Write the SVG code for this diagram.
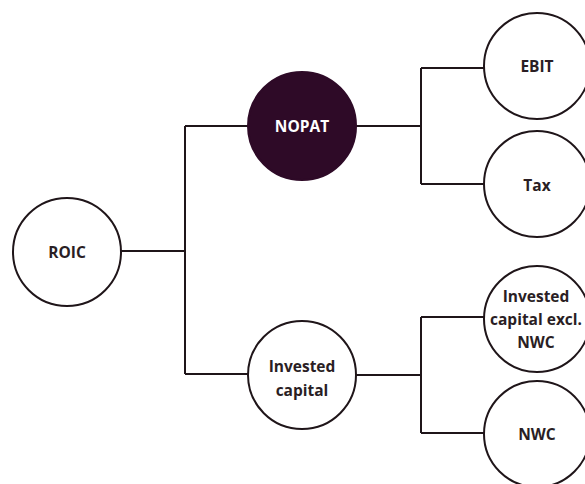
<svg xmlns="http://www.w3.org/2000/svg" width="585" height="484" viewBox="0 0 585 484">
<style>
.node{fill:#ffffff;stroke:#1f1519;stroke-width:2}
.dark{fill:#2e0a27;stroke:#2e0a27;stroke-width:2}
.lbl{font-family:"Open Sans","Liberation Sans",sans-serif;font-weight:700;font-size:15.5px;fill:#2a1e24;text-anchor:middle;dominant-baseline:central}
.lblw{fill:#ffffff}
.conn{fill:none;stroke:#1f1519;stroke-width:2}
</style>
<rect width="585" height="484" fill="#ffffff"/>
<g id="connectors">
<path class="conn" d="M121 251 H185 M185 126 V374 M185 126 H248 M185 374 H248"/>
<path class="conn" d="M356 126 H421 M421 68 V184 M421 68 H485 M421 184 H485"/>
<path class="conn" d="M356 375 H421 M421 317 V433 M421 317 H485 M421 433 H485"/>
</g>
<g id="roic"><circle class="node" cx="67" cy="252" r="54"/><text class="lbl" x="67" y="252">ROIC</text></g>
<g id="nopat"><circle class="dark" cx="302" cy="126" r="54"/><text class="lbl lblw" x="302" y="126">NOPAT</text></g>
<g id="invested-capital"><circle class="node" cx="302" cy="375" r="54"/><text class="lbl" x="302" y="366">Invested</text><text class="lbl" x="302" y="390">capital</text></g>
<g id="ebit"><circle class="node" cx="537" cy="66" r="53"/><text class="lbl" x="537" y="66">EBIT</text></g>
<g id="tax"><circle class="node" cx="537" cy="184" r="53"/><text class="lbl" x="537" y="185">Tax</text></g>
<g id="ic-excl-nwc"><circle class="node" cx="537" cy="319" r="53"/><text class="lbl" x="536" y="296">Invested</text><text class="lbl" x="536" y="319">capital excl.</text><text class="lbl" x="536" y="342">NWC</text></g>
<g id="nwc"><circle class="node" cx="537" cy="434" r="53"/><text class="lbl" x="537" y="434">NWC</text></g>
</svg>
